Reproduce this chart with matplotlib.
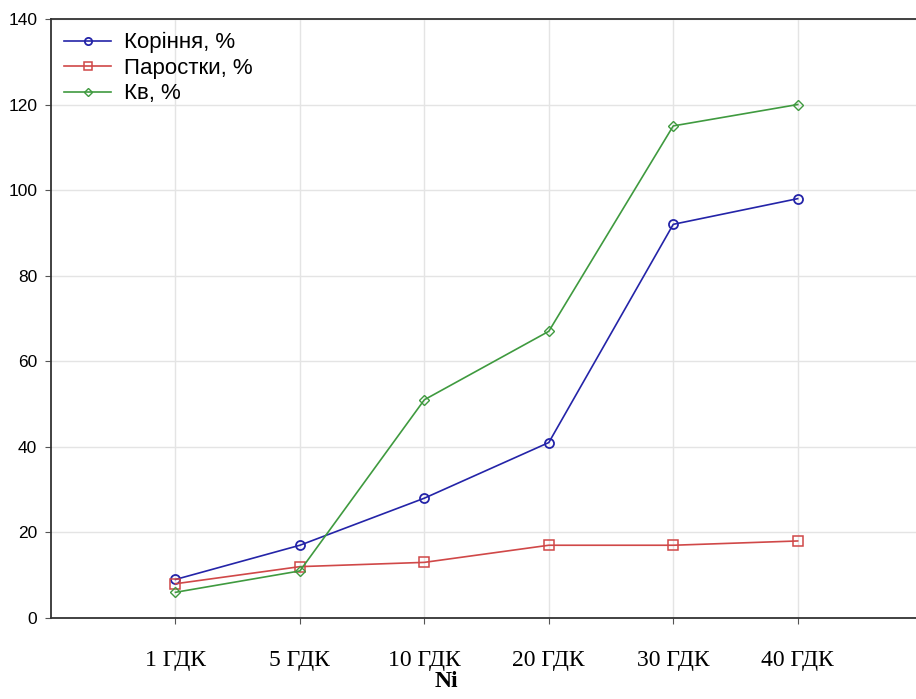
import numpy as np
import matplotlib.pyplot as plt

doses = ['1 ГДК', '5 ГДК', '10 ГДК', '20 ГДК', '30 ГДК', '40 ГДК']
roots = [9, 17, 28, 41, 92, 98]
sprouts = [8, 12, 13, 17, 17, 18]
kv = [6, 11, 51, 67, 115, 120]

x = np.arange(1, len(doses) + 1)

fig = plt.figure(figsize=(9.16, 6.99), dpi=100)
ax = fig.add_axes([0.0557, 0.1159, 0.951, 0.857])

ax.plot(x, roots, color='#2424a8', marker='o', mfc='none', ms=6.5, mew=1.3, lw=1.2, label='Коріння, %')
ax.plot(x, sprouts, color='#d04848', marker='s', mfc='none', ms=6.5, mew=1.1, lw=1.2, label='Паростки, %')
ax.plot(x, kv, color='#3f9a3f', marker='D', mfc='none', ms=5.5, mew=1.0, lw=1.2, label='Кв, %')

ax.set_xlim(0, 7)
ax.set_ylim(0, 140)
ax.set_yticks(np.arange(0, 141, 20))
ax.set_xticks(x)
ax.set_xticklabels(doses, family='Liberation Serif', fontsize=17)
ax.tick_params(axis='x', pad=19, length=4, color='#555555')
ax.tick_params(axis='y', length=4, pad=6, labelsize=12.5, color='#555555')
for lab in ax.get_yticklabels():
    lab.set_family('Liberation Sans')

ax.grid(True, color='#e4e4e4', lw=1.0)
ax.set_axisbelow(True)
for side in ['left', 'bottom', 'top']:
    ax.spines[side].set_color('#333333')
    ax.spines[side].set_linewidth(1.3)

ax.set_xlabel('Ni', family='Liberation Serif', fontsize=17, fontweight='bold')
ax.xaxis.set_label_coords(0.4535, -0.089)

ax.legend(loc='upper left', frameon=False, prop={'family': 'Liberation Sans', 'size': 16},
          handlelength=2.1, handletextpad=0.6, labelspacing=0.2, borderaxespad=0.2,
          markerscale=0.8, bbox_to_anchor=(0.0, 1.0))

fig.savefig('out.png', dpi=100)
